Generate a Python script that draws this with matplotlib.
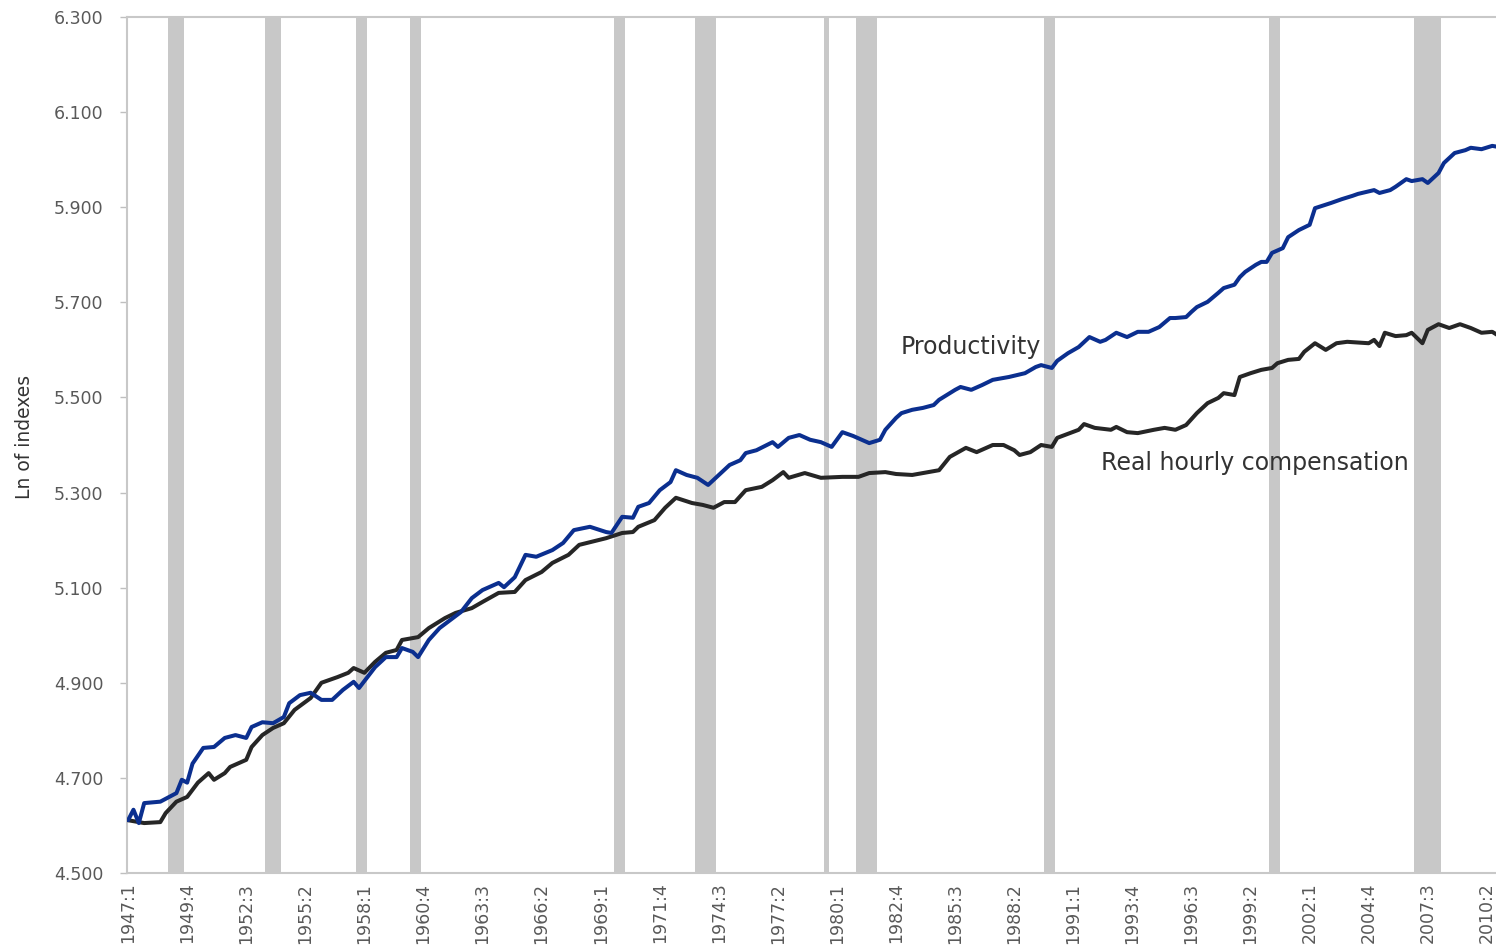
import matplotlib
matplotlib.use("Agg")
import matplotlib.pyplot as plt

# quarters are "YYYY:Q"
PROD_Q = ["1947:1", "1947:2", "1947:3", "1947:4", "1948:3", "1949:2", "1949:3", "1949:4",
          "1950:1", "1950:3", "1951:1", "1951:3", "1952:1", "1952:3", "1952:4", "1953:2",
          "1953:4", "1954:2", "1954:3", "1955:1", "1955:3", "1956:1", "1956:3", "1957:1",
          "1957:3", "1957:4", "1958:3", "1959:1", "1959:3", "1959:4", "1960:2", "1960:3",
          "1961:1", "1961:3", "1962:1", "1962:3", "1963:1", "1963:3", "1964:2", "1964:3",
          "1965:1", "1965:3", "1966:1", "1966:4", "1967:2", "1967:4", "1968:3", "1969:2",
          "1969:3", "1970:1", "1970:3", "1970:4", "1971:2", "1971:4", "1972:2", "1972:3",
          "1973:1", "1973:3", "1974:1", "1974:3", "1975:1", "1975:3", "1975:4", "1976:2",
          "1977:1", "1977:2", "1977:4", "1978:2", "1978:4", "1979:2", "1979:4", "1980:2",
          "1980:4", "1981:3", "1982:1", "1982:2", "1982:4", "1983:1", "1983:3", "1984:1",
          "1984:3", "1984:4", "1985:3", "1985:4", "1986:2", "1986:4", "1987:2", "1988:1",
          "1988:4", "1989:2", "1989:3", "1990:1", "1990:2", "1990:4", "1991:2", "1991:4",
          "1992:2", "1992:3", "1993:1", "1993:3", "1994:1", "1994:3", "1995:1", "1995:3",
          "1995:4", "1996:2", "1996:3", "1996:4", "1997:2", "1997:4", "1998:1", "1998:3",
          "1998:4", "1999:1", "1999:3", "1999:4", "2000:1", "2000:2", "2000:4", "2001:1",
          "2001:3", "2002:1", "2002:2", "2003:1", "2003:3", "2004:1", "2004:2", "2005:1",
          "2005:2", "2005:4", "2006:1", "2006:3", "2006:4", "2007:2", "2007:3", "2008:1",
          "2008:2", "2008:4", "2009:2", "2009:3", "2010:1", "2010:3", "2010:4"]
PROD_V = [4.611, 4.633, 4.605, 4.647, 4.650, 4.668, 4.696, 4.690,
          4.730, 4.763, 4.765, 4.784, 4.790, 4.784, 4.807, 4.817,
          4.815, 4.828, 4.857, 4.874, 4.879, 4.864, 4.864, 4.885,
          4.902, 4.889, 4.933, 4.954, 4.954, 4.973, 4.965, 4.954,
          4.990, 5.015, 5.032, 5.049, 5.078, 5.095, 5.110, 5.101,
          5.122, 5.169, 5.165, 5.179, 5.194, 5.221, 5.228, 5.217,
          5.215, 5.249, 5.247, 5.270, 5.278, 5.305, 5.322, 5.347,
          5.337, 5.331, 5.316, 5.337, 5.358, 5.368, 5.383, 5.389,
          5.406, 5.396, 5.415, 5.421, 5.411, 5.406, 5.396, 5.427,
          5.419, 5.404, 5.411, 5.432, 5.457, 5.467, 5.474, 5.478,
          5.484, 5.495, 5.516, 5.522, 5.516, 5.526, 5.537, 5.543,
          5.551, 5.564, 5.568, 5.562, 5.577, 5.593, 5.606, 5.627,
          5.617, 5.621, 5.636, 5.627, 5.638, 5.638, 5.648, 5.667,
          5.667, 5.669, 5.680, 5.690, 5.701, 5.720, 5.730, 5.737,
          5.753, 5.764, 5.779, 5.785, 5.785, 5.804, 5.814, 5.837,
          5.852, 5.863, 5.898, 5.909, 5.917, 5.924, 5.928, 5.936,
          5.930, 5.936, 5.943, 5.959, 5.955, 5.959, 5.951, 5.972,
          5.993, 6.014, 6.020, 6.025, 6.022, 6.029, 6.027]

COMP_Q = ["1947:1", "1947:4", "1948:3", "1948:4", "1949:2", "1949:4", "1950:2", "1950:4",
          "1951:1", "1951:3", "1951:4", "1952:3", "1952:4", "1953:2", "1953:4", "1954:2",
          "1954:4", "1955:3", "1956:1", "1956:4", "1957:2", "1957:3", "1958:1", "1958:3",
          "1959:1", "1959:3", "1959:4", "1960:3", "1961:1", "1961:4", "1962:2", "1963:1",
          "1963:3", "1964:2", "1965:1", "1965:3", "1966:2", "1966:4", "1967:3", "1968:1",
          "1969:2", "1970:1", "1970:3", "1970:4", "1971:3", "1972:1", "1972:3", "1973:2",
          "1973:4", "1974:2", "1974:4", "1975:2", "1975:4", "1976:3", "1977:1", "1977:3",
          "1977:4", "1978:3", "1979:2", "1980:2", "1981:1", "1981:3", "1982:2", "1982:4",
          "1983:3", "1984:1", "1984:4", "1985:2", "1986:1", "1986:3", "1987:2", "1987:4",
          "1988:2", "1988:3", "1989:1", "1989:3", "1990:1", "1990:2", "1991:2", "1991:3",
          "1992:1", "1992:4", "1993:1", "1993:3", "1994:1", "1994:4", "1995:2", "1995:4",
          "1996:2", "1996:4", "1997:2", "1997:4", "1998:1", "1998:3", "1998:4", "1999:2",
          "1999:4", "2000:2", "2000:3", "2001:1", "2001:3", "2001:4", "2002:2", "2002:4",
          "2003:2", "2003:4", "2004:4", "2005:1", "2005:2", "2005:3", "2006:1", "2006:3",
          "2006:4", "2007:2", "2007:3", "2008:1", "2008:3", "2009:1", "2009:3", "2010:1",
          "2010:3", "2010:4"]
COMP_V = [4.611, 4.605, 4.607, 4.626, 4.650, 4.660, 4.690, 4.710,
          4.696, 4.710, 4.723, 4.738, 4.765, 4.790, 4.805, 4.815,
          4.843, 4.868, 4.900, 4.912, 4.921, 4.931, 4.921, 4.944,
          4.963, 4.969, 4.990, 4.996, 5.015, 5.036, 5.047, 5.057,
          5.070, 5.089, 5.091, 5.116, 5.133, 5.152, 5.169, 5.190,
          5.204, 5.215, 5.217, 5.228, 5.242, 5.268, 5.289, 5.278,
          5.274, 5.268, 5.280, 5.280, 5.305, 5.312, 5.326, 5.343,
          5.331, 5.341, 5.331, 5.333, 5.333, 5.341, 5.343, 5.339,
          5.337, 5.341, 5.347, 5.375, 5.394, 5.385, 5.400, 5.400,
          5.389, 5.379, 5.385, 5.400, 5.396, 5.415, 5.432, 5.444,
          5.436, 5.432, 5.438, 5.427, 5.425, 5.432, 5.436, 5.432,
          5.442, 5.467, 5.488, 5.499, 5.509, 5.505, 5.543, 5.551,
          5.558, 5.562, 5.572, 5.579, 5.581, 5.596, 5.614, 5.600,
          5.614, 5.617, 5.614, 5.621, 5.608, 5.636, 5.629, 5.631,
          5.636, 5.614, 5.642, 5.654, 5.646, 5.654, 5.646, 5.636,
          5.638, 5.631]

# shaded recession periods (first, last quarter)
RECESSIONS = [("1949:1", "1949:3"), ("1953:3", "1954:1"), ("1957:4", "1958:1"),
              ("1960:2", "1960:3"), ("1969:4", "1970:1"), ("1973:3", "1974:2"),
              ("1979:3", "1979:3"), ("1981:1", "1981:4"), ("1989:4", "1990:1"),
              ("2000:2", "2000:3"), ("2007:1", "2008:1")]

Y_TICKS = [4.5, 4.7, 4.9, 5.1, 5.3, 5.5, 5.7, 5.9, 6.1, 6.3]
FIRST_YEAR = 1947
LABEL_STEP = 11     # one axis label every 11 quarters
N_QUARTERS = 256    # 1947:1 .. 2010:4


def qidx(label):
    y, q = label.split(":")
    return (int(y) - FIRST_YEAR) * 4 + int(q) - 1


def qlabel(i):
    return f"{FIRST_YEAR + i // 4}:{i % 4 + 1}"


fig = plt.figure(figsize=(14.96, 9.51), dpi=100)
ax = fig.add_axes([127 / 1496, 1 - 873 / 951, 1 - 127 / 1496, (873 - 17) / 951])

for a, b in RECESSIONS:
    ax.axvspan(qidx(a) - 0.5, qidx(b) + 0.5, color="#c8c8c8", lw=0, zorder=1)

ax.plot([qidx(q) for q in COMP_Q], COMP_V, color="#262626", lw=2.9,
        solid_joinstyle="round", solid_capstyle="round", zorder=3)
ax.plot([qidx(q) for q in PROD_Q], PROD_V, color="#0b2f8f", lw=2.9,
        solid_joinstyle="round", solid_capstyle="round", zorder=4)

ax.text(qidx("1982:4") + 0.8, 5.606, "Productivity", fontsize=17, color="#333333",
        ha="left", va="center", zorder=5)
ax.text(qidx("1992:2") + 0.2, 5.362, "Real hourly compensation", fontsize=17,
        color="#333333", ha="left", va="center", zorder=5)

ax.set_xlim(-0.2, 254.7)
ax.set_ylim(4.5, 6.3)
ax.set_yticks(Y_TICKS)
ax.set_yticklabels([f"{v:.3f}" for v in Y_TICKS])
xt = list(range(0, N_QUARTERS, LABEL_STEP))
ax.set_xticks(xt)
ax.set_xticklabels([qlabel(i) for i in xt], rotation=90)

ax.tick_params(axis="y", length=5, width=1, color="#bfbfbf", labelsize=12.5,
               labelcolor="#595959", pad=12)
ax.tick_params(axis="x", length=0, labelsize=12.5, labelcolor="#595959", pad=7)
for s in ["left", "bottom", "top"]:
    ax.spines[s].set_color("#c8c8c8")
    ax.spines[s].set_linewidth(1.5)
ax.spines["right"].set_visible(False)

fig.text(24 / 1496, 1 - 437 / 951, "Ln of indexes", rotation=90, fontsize=13.5,
         color="#333333", ha="center", va="center")

fig.savefig("out.png", dpi=100)
